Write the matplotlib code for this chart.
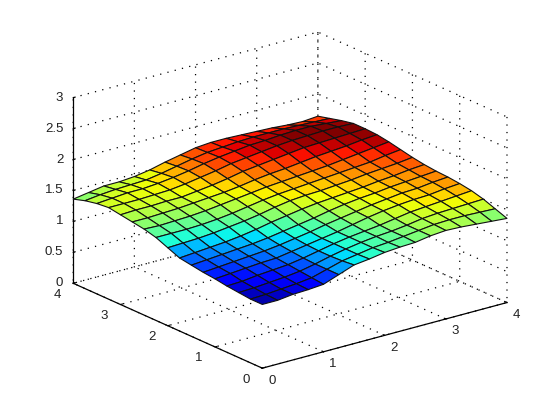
import numpy as np
import matplotlib
matplotlib.use('Agg')
import matplotlib.pyplot as plt
from mpl_toolkits.mplot3d import proj3d

x_ticks = [0, 1, 2, 3, 4]
y_ticks = [0, 1, 2, 3, 4]
z_ticks = [0, 0.5, 1, 1.5, 2, 2.5, 3]
x_tick_labels = ['0', '1', '2', '3', '4']
y_tick_labels = ['0', '1', '2', '3', '4']
z_tick_labels = ['0', '0.5', '1', '1.5', '2', '2.5', '3']

x_grid = [0, .25, .5, .75, 1, 1.25, 1.5, 1.75, 2, 2.25, 2.5, 2.75, 3, 3.25, 3.5, 3.75, 4]
y_grid = [0, .25, .5, .75, 1, 1.25, 1.5, 1.75, 2, 2.25, 2.5, 2.75, 3, 3.25, 3.5, 3.75, 4]

# heights in hundredths, rows by y, columns by x
z_hundredths = [
    [103, 103, 106, 107, 109, 118, 127, 130, 134, 136, 137, 141, 143, 142, 140, 138, 136],
    [103, 104, 106, 108, 111, 118, 125, 129, 133, 135, 138, 141, 144, 145, 145, 144, 143],
    [105, 106, 108, 110, 113, 118, 124, 129, 133, 136, 138, 141, 145, 147, 148, 149, 150],
    [107, 108, 111, 113, 115, 119, 124, 129, 133, 136, 139, 143, 147, 149, 151, 153, 155],
    [110, 112, 114, 116, 117, 121, 125, 129, 133, 138, 143, 147, 150, 152, 153, 156, 158],
    [112, 114, 116, 118, 120, 123, 127, 131, 136, 140, 144, 148, 151, 154, 155, 158, 160],
    [115, 117, 119, 121, 123, 126, 130, 134, 138, 143, 147, 150, 152, 155, 157, 159, 161],
    [118, 120, 122, 124, 127, 131, 136, 140, 144, 147, 149, 151, 153, 156, 158, 161, 163],
    [126, 127, 128, 130, 133, 136, 140, 145, 149, 151, 152, 154, 156, 159, 161, 163, 166],
    [134, 134, 134, 135, 137, 140, 144, 148, 151, 153, 155, 157, 159, 161, 163, 167, 170],
    [139, 138, 139, 140, 142, 145, 148, 151, 154, 156, 158, 160, 162, 165, 168, 171, 174],
    [142, 142, 143, 144, 146, 148, 150, 153, 157, 160, 162, 165, 168, 170, 172, 175, 177],
    [145, 146, 146, 147, 147, 150, 153, 157, 162, 165, 168, 171, 174, 175, 176, 177, 178],
    [148, 148, 148, 149, 150, 153, 157, 161, 166, 169, 172, 175, 177, 178, 179, 179, 178],
    [146, 148, 150, 150, 152, 155, 159, 164, 168, 171, 174, 175, 177, 178, 178, 176, 174],
    [142, 145, 147, 148, 149, 153, 158, 163, 167, 169, 171, 172, 172, 172, 171, 170, 169],
    [136, 140, 144, 144, 146, 150, 156, 161, 166, 168, 168, 167, 166, 165, 163, 162, 164],
]

plt.rcParams['font.family'] = ['Liberation Sans', 'DejaVu Sans']

fig = plt.figure(figsize=(5.6, 4.14), dpi=100, facecolor='white')
W, H = 560, 414
L = 466
cx, cy = 283.8, 207.4
ax = fig.add_axes([(cx - L / 2) / W, (H - cy - L / 2) / H, L / W, L / H], projection='3d', proj_type='ortho')
ax.patch.set_alpha(0)
ax.view_init(elev=20.3, azim=-127.7)
ax.set_box_aspect((1, 1, 0.64), zoom=1.0)

X, Y = np.meshgrid(x_grid, y_grid)
Z = np.array(z_hundredths) / 100.0
ax.plot_surface(X, Y, Z, rstride=1, cstride=1, cmap='jet', vmin=1.0, vmax=1.78,
                edgecolor='#111111', linewidth=0.8, shade=False, antialiased=True)

ax.set_xlim(0, 4, view_margin=0)
ax.set_ylim(0, 4, view_margin=0)
ax.set_zlim(0, 3, view_margin=0)
ax.set_xticks(x_ticks)
ax.set_yticks(y_ticks)
ax.set_zticks(z_ticks)
ax.set_xticklabels([])
ax.set_yticklabels([])
ax.set_zticklabels([])

for a in (ax.xaxis, ax.yaxis, ax.zaxis):
    a.set_pane_color((1, 1, 1, 0))
    a.pane.set_edgecolor('none')
    a.line.set_color('black')
    a.line.set_linewidth(0.9)
    a._axinfo['grid'].update(color='black', linestyle=(0, (1, 5)), linewidth=0.9)
    a._axinfo['tick'].update(inward_factor=0.0, outward_factor=0.1)
ax.tick_params(axis='both', pad=0)

# tick labels anchored to the projected tick positions, offsets in pixels
M = ax.get_proj()


def tick_label(px, py, pz, text, off, ha):
    u, v, _ = proj3d.proj_transform(px, py, pz, M)
    ax.annotate(text, xy=(u, v), xycoords='data', xytext=off, textcoords='offset pixels',
                ha=ha, va='center', fontsize=9.5, color='#222222', annotation_clip=False)


for v, s in zip(x_ticks, x_tick_labels):
    tick_label(v, 0, 0, s, (9.5, -11.5), 'center')
for v, s in zip(y_ticks, y_tick_labels):
    tick_label(0, v, 0, s, (-16, -10.5), 'center')
for v, s in zip(z_ticks, z_tick_labels):
    tick_label(0, 4, v, s, (-10, 1), 'right')

fig.savefig('out.png', dpi=100, facecolor='white')
